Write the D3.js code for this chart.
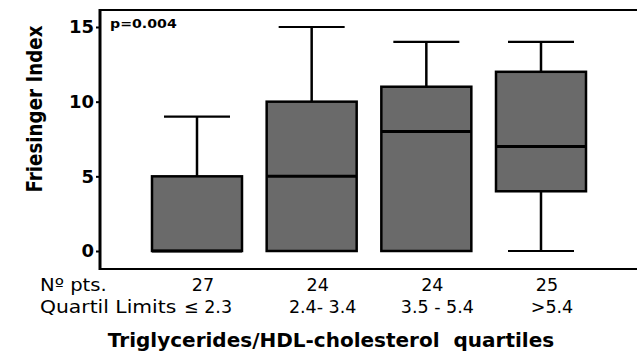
<!DOCTYPE html>
<html>
<head>
<meta charset="utf-8">
<script src="https://cdn.jsdelivr.net/npm/d3@7"></script>
<style>
  body { margin: 0; background: #fff; }
  text { font-family: "DejaVu Sans", Verdana, sans-serif; }
</style>
</head>
<body>
<svg id="chart"></svg>
<script>
const categories = ["Q1", "Q2", "Q3", "Q4"];
const nPts = [27, 24, 24, 25];
const limits = ["\u2264 2.3", "2.4- 3.4", "3.5 - 5.4", ">5.4"];
const whiskerLow = [0, 0, 0, 0];
const q1 = [0, 0, 0, 4];
const median = [0, 5, 8, 7];
const q3 = [5, 10, 11, 12];
const whiskerHigh = [9, 15, 14, 14];
const yTicks = [0, 5, 10, 15];

const width = 637, height = 352;
const svg = d3.select("#chart").attr("width", width).attr("height", height);

const x = d3.scalePoint().domain(categories).range([197, 541]);
const y = d3.scaleLinear().domain([0, 15]).range([251, 27]);

const boxW = 90, capW = 66;

// the source picture is stretched sideways, so text is widened to match
function stretch(sel, factor) {
    sel.each(function () {
        const w = this.getComputedTextLength();
        d3.select(this).attr("textLength", w * factor).attr("lengthAdjust", "spacingAndGlyphs");
    });
}

// frame
svg.append("line").attr("x1", 100).attr("x2", width).attr("y1", 10).attr("y2", 10)
    .attr("stroke", "#000").attr("stroke-width", 2);
svg.append("line").attr("x1", 100).attr("x2", width).attr("y1", 269).attr("y2", 269)
    .attr("stroke", "#000").attr("stroke-width", 2);

// y axis
const yAxis = svg.append("g").attr("transform", "translate(100,0)")
    .call(d3.axisLeft(y).tickValues(yTicks).tickSize(4).tickPadding(2));
yAxis.select(".domain").remove();
yAxis.append("line").attr("x1", 0).attr("x2", 0).attr("y1", 9).attr("y2", 270)
    .attr("stroke", "#000").attr("stroke-width", 3);
yAxis.selectAll(".tick line").attr("stroke-width", 2);
yAxis.selectAll(".tick text")
    .attr("font-family", "DejaVu Sans, Verdana, sans-serif")
    .attr("font-size", 18).attr("font-weight", "bold").attr("fill", "#000");

const boxes = categories.map((c, i) => ({
    c, lo: whiskerLow[i], q1: q1[i], med: median[i], q3: q3[i], hi: whiskerHigh[i]
}));

const g = svg.append("g");
const box = g.selectAll("g.box").data(boxes).enter().append("g").attr("class", "box");

// whiskers
box.append("line")
    .attr("x1", d => x(d.c)).attr("x2", d => x(d.c))
    .attr("y1", d => y(d.q3)).attr("y2", d => y(d.hi))
    .attr("stroke", "#000").attr("stroke-width", 2.5);
box.append("line")
    .attr("x1", d => x(d.c) - capW / 2).attr("x2", d => x(d.c) + capW / 2)
    .attr("y1", d => y(d.hi)).attr("y2", d => y(d.hi))
    .attr("stroke", "#000").attr("stroke-width", 2.2);
box.filter(d => d.lo < d.q1).append("line")
    .attr("x1", d => x(d.c)).attr("x2", d => x(d.c))
    .attr("y1", d => y(d.q1)).attr("y2", d => y(d.lo))
    .attr("stroke", "#000").attr("stroke-width", 2.5);
box.filter(d => d.lo < d.q1).append("line")
    .attr("x1", d => x(d.c) - capW / 2).attr("x2", d => x(d.c) + capW / 2)
    .attr("y1", d => y(d.lo)).attr("y2", d => y(d.lo))
    .attr("stroke", "#000").attr("stroke-width", 2.2);

// box
box.append("rect")
    .attr("x", d => x(d.c) - boxW / 2).attr("width", boxW)
    .attr("y", d => y(d.q3)).attr("height", d => y(d.q1) - y(d.q3))
    .attr("fill", "#6a6a6a").attr("stroke", "#000").attr("stroke-width", 2.5);
box.append("line")
    .attr("x1", d => x(d.c) - boxW / 2).attr("x2", d => x(d.c) + boxW / 2)
    .attr("y1", d => y(d.med)).attr("y2", d => y(d.med))
    .attr("stroke", "#000").attr("stroke-width", 3);

// p value
svg.append("text").attr("x", 110).attr("y", 28)
    .attr("font-size", 12).attr("font-weight", "bold").text("p=0.004")
    .call(stretch, 1.18);

// bottom table
svg.append("text").attr("x", 40).attr("y", 291).attr("font-size", 17.5).text("N\u00ba pts.")
    .call(stretch, 1.12);
svg.append("text").attr("x", 40).attr("y", 313).attr("font-size", 17.5).text("Quartil Limits")
    .call(stretch, 1.16);
svg.selectAll("text.npts").data(categories).enter().append("text").attr("class", "npts")
    .attr("x", c => x(c) + 6).attr("y", 291).attr("text-anchor", "middle")
    .attr("font-size", 17.5).text((c, i) => nPts[i]);
svg.selectAll("text.lim").data(categories).enter().append("text").attr("class", "lim")
    .attr("x", c => x(c) + 11).attr("y", 313).attr("text-anchor", "middle")
    .attr("font-size", 17.5).text((c, i) => limits[i]);

// axis titles
svg.append("text").attr("transform", "translate(42,109) rotate(-90)")
    .attr("text-anchor", "middle").attr("font-size", 21).attr("font-weight", "bold")
    .text("Friesinger Index")
    .call(stretch, 0.87);
svg.append("text").attr("x", 331).attr("y", 347).attr("text-anchor", "middle")
    .attr("font-size", 20).attr("font-weight", "bold")
    .attr("xml:space", "preserve").style("white-space", "pre")
    .text("Triglycerides/HDL-cholesterol  quartiles")
    .call(stretch, 1.0);
</script>
</body>
</html>
